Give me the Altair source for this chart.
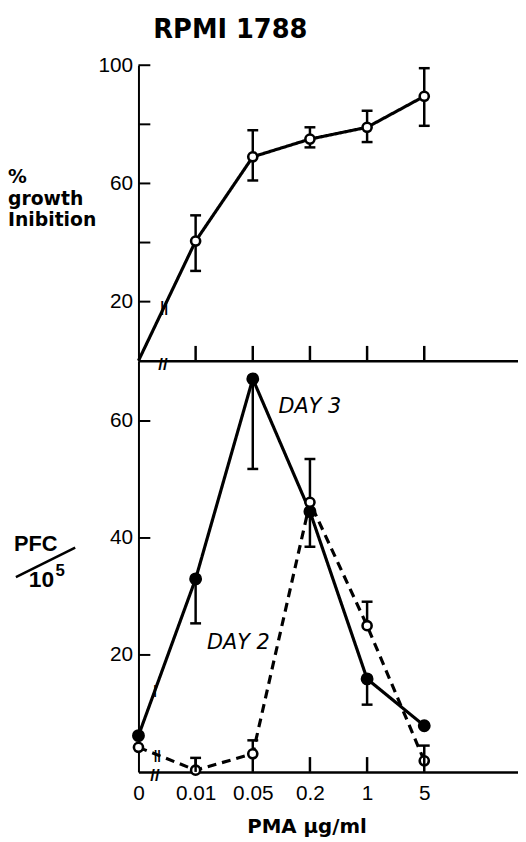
import json
import altair as alt
import pandas as pd

# ---------------- data ----------------
x_labels = ["0", "0.01", "0.05", "0.2", "1", "5"]
x_index = [0, 1, 2, 3, 4, 5]

growth = [0, 40.5, 69, 75, 79, 89.5]
growth_lo = [None, 30.4, 61, 72.2, 74, 79.5]
growth_hi = [None, 49.2, 78, 79, 84.6, 99]

day3 = [6.2, 33, 67.2, 44.5, 15.9, 7.9]
day3_lo = [None, 25.4, 51.8, 38.5, 11.5, None]
day2 = [4.2, 0.3, 3.1, 46.1, 25, 1.9]
day2_hi = [None, 2.4, 5.4, 53.5, 29.1, 4.5]

top_tick_values = [20, 40, 60, 80, 100]
top_label_values = [20, 60, 100]
bot_tick_values = [20, 40, 60]

# axis-break marks (x in category units, y in data units)
top_axis_break = {"x": [0.43], "y": [0], "t": ["//"]}
top_line_break = {"x": [0.45], "y": [18], "t": ["||"]}
bot_axis_break = {"x": [0.29], "y": [0], "t": ["//"]}
bot_line_break = {"x": [0.29, 0.33], "y": [14, 2.9], "t": ["|", "||"]}

day_labels = {"x": [2.45, 1.2], "y": [62.4, 22.1], "t": ["DAY 3", "DAY 2"]}

# ---------------- layout ----------------
W = 384
H1 = 299
H2 = 416
FONT = "Liberation Sans"

xscale = alt.Scale(domain=[0, 6.64], nice=False, zero=False)
y1scale = alt.Scale(domain=[0, 100], nice=False)
y2scale = alt.Scale(domain=[0, 70.3], nice=False)

label_expr = json.dumps(x_labels) + "[datum.value]"

ax_x_top = alt.Axis(labels=False, ticks=False, grid=False, title=None,
                    domainColor="black", domainWidth=2.5)
ax_x_bot = alt.Axis(values=x_index, labelExpr=label_expr, ticks=False, tickSize=0,
                    grid=False, labelFlush=False, labelOverlap=False,
                    labelFont=FONT, labelFontSize=21, labelColor="black", labelPadding=11,
                    domainColor="black", domainWidth=2.5,
                    title="PMA µg/ml", titleFont="DejaVu Sans", titleFontSize=20,
                    titleFontWeight="bold", titleColor="black", titleX=170, titleY=61,
                    titleAlign="center", titleBaseline="alphabetic")
ax_y_top = alt.Axis(values=top_label_values, ticks=False, tickSize=0, grid=False, title=None,
                    labelFont=FONT, labelFontSize=21, labelColor="black", labelPadding=6,
                    labelFlush=False, labelOverlap=False,
                    domainColor="black", domainWidth=2)
ax_y_bot = alt.Axis(values=bot_tick_values, ticks=False, tickSize=0, grid=False, title=None,
                    labelFont=FONT, labelFontSize=21, labelColor="black", labelPadding=6,
                    labelFlush=False, labelOverlap=False,
                    domainColor="black", domainWidth=2)


def X(field, axis):
    return alt.X(field, type="quantitative", scale=xscale, axis=axis)


def Y(field, scale, axis):
    return alt.Y(field, type="quantitative", scale=scale, axis=axis)


def panel(series, yscale, xaxis, yaxis, H, tick_vals):
    layers = []
    for s in series:
        df = pd.DataFrame({"x": x_index, "y": s["y"]})
        line = alt.Chart(df).mark_line(color="black", strokeWidth=3.2,
                                       strokeDash=s.get("dash", [1, 0])).encode(
            x=X("x", xaxis), y=Y("y", yscale, yaxis))
        layers.append(line)
    for s in series:
        for lo_key, hi_key in [("lo", "y"), ("y", "hi")]:
            if lo_key not in s or hi_key not in s:
                continue
            rows = [(i, a, b) for i, a, b in zip(x_index, s[lo_key], s[hi_key])
                    if a is not None and b is not None]
            if not rows:
                continue
            df = pd.DataFrame(rows, columns=["x", "a", "b"])
            layers.append(alt.Chart(df).mark_rule(color="black", strokeWidth=2.5).encode(
                x=X("x", xaxis), y=Y("a", yscale, yaxis), y2="b"))
            cap_field = "a" if lo_key == "lo" else "b"
            layers.append(alt.Chart(df).mark_tick(color="black", orient="horizontal",
                                                  size=11, thickness=2.5, opacity=1).encode(
                x=X("x", xaxis), y=Y(cap_field, yscale, yaxis)))
    for s in series:
        df = pd.DataFrame({"x": x_index, "y": s["y"]})
        if s.get("skip_first"):
            df = df.iloc[1:]
        if s["filled"]:
            m = alt.Chart(df).mark_circle(color="black", size=170, opacity=1)
        else:
            m = alt.Chart(df).mark_point(shape="circle", filled=True, fill="white",
                                         stroke="black", strokeWidth=2.6, size=85, opacity=1)
        layers.append(m.encode(x=X("x", xaxis), y=Y("y", yscale, yaxis)))
    # inward y ticks
    layers.append(alt.Chart(pd.DataFrame({"v": tick_vals})).mark_rule(
        color="black", strokeWidth=2).encode(
        y=Y("v", yscale, yaxis), x=alt.value(0), x2=alt.value(12)))
    # inward x ticks
    layers.append(alt.Chart(pd.DataFrame({"x": x_index[1:]})).mark_rule(
        color="black", strokeWidth=2.5).encode(
        x=X("x", xaxis), y=alt.value(H - 15), y2=alt.value(H)))
    return layers


def text_layer(d, yscale, xaxis, yaxis, **kw):
    df = pd.DataFrame(d)
    return alt.Chart(df).mark_text(color="black", **kw).encode(
        x=X("x", xaxis), y=Y("y", yscale, yaxis), text="t:N")


# ---------------- top panel ----------------
top_layers = panel(
    [{"y": growth, "lo": growth_lo, "hi": growth_hi, "filled": False, "skip_first": True}],
    y1scale, ax_x_top, ax_y_top, H1, top_tick_values)
top_layers.append(text_layer(top_axis_break, y1scale, ax_x_top, ax_y_top,
                             font=FONT, fontSize=17, fontWeight="bold", dy=4))
top_layers.append(text_layer(top_line_break, y1scale, ax_x_top, ax_y_top,
                             font=FONT, fontSize=14, fontWeight="bold"))
top_layers.append(alt.Chart(pd.DataFrame({"t": ["RPMI 1788"]})).mark_text(
    font="DejaVu Sans", fontSize=26, fontWeight="bold", color="black",
    align="center", baseline="middle").encode(
    text="t:N", x=alt.value(93), y=alt.value(-36)))
top_layers.append(alt.Chart(pd.DataFrame({"t": ["%\ngrowth\nInibition"]})).mark_text(
    font="DejaVu Sans", fontSize=19, fontWeight="bold", color="black", align="left",
    baseline="top", lineBreak="\n", lineHeight=22).encode(
    text="t:N", x=alt.value(-132), y=alt.value(104)))

top = alt.layer(*top_layers).properties(width=W, height=H1)

# ---------------- bottom panel ----------------
bot_layers = panel(
    [{"y": day3, "lo": day3_lo, "filled": True},
     {"y": day2, "hi": day2_hi, "filled": False, "dash": [9, 6]}],
    y2scale, ax_x_bot, ax_y_bot, H2, bot_tick_values)
bot_layers.append(text_layer(bot_axis_break, y2scale, ax_x_bot, ax_y_bot,
                             font=FONT, fontSize=17, fontWeight="bold", dy=4))
bot_layers.append(text_layer(bot_line_break, y2scale, ax_x_bot, ax_y_bot,
                             font=FONT, fontSize=13, fontWeight="bold"))
bot_layers.append(text_layer(day_labels, y2scale, ax_x_bot, ax_y_bot,
                             font="DejaVu Sans", fontSize=21, fontStyle="italic",
                             align="left", baseline="middle"))
bot_layers.append(alt.Chart(pd.DataFrame({"t": ["PFC"]})).mark_text(
    font=FONT, fontSize=22, fontWeight="bold", color="black", align="left",
    baseline="alphabetic").encode(text="t:N", x=alt.value(-126), y=alt.value(192)))
bot_layers.append(alt.Chart(pd.DataFrame({"t": ["10"]})).mark_text(
    font=FONT, fontSize=23, fontWeight="bold", color="black", align="left",
    baseline="alphabetic").encode(text="t:N", x=alt.value(-111), y=alt.value(229)))
bot_layers.append(alt.Chart(pd.DataFrame({"t": ["5"]})).mark_text(
    font=FONT, fontSize=17, fontWeight="bold", color="black", align="left",
    baseline="alphabetic").encode(text="t:N", x=alt.value(-84), y=alt.value(218)))
bot_layers.append(alt.Chart(pd.DataFrame({"k": [0]})).mark_rule(
    color="black", strokeWidth=2.5).encode(
    x=alt.value(-124), y=alt.value(219), x2=alt.value(-64), y2=alt.value(189)))

bottom = alt.layer(*bot_layers).properties(width=W, height=H2)

chart = alt.vconcat(top, bottom, spacing=0, bounds="flush").properties(
    padding={"left": 0, "top": 4, "right": 0, "bottom": 0},
    background="white",
).configure_view(stroke=None)

chart.save("out.html", embed_options={"renderer": "svg", "actions": False})
